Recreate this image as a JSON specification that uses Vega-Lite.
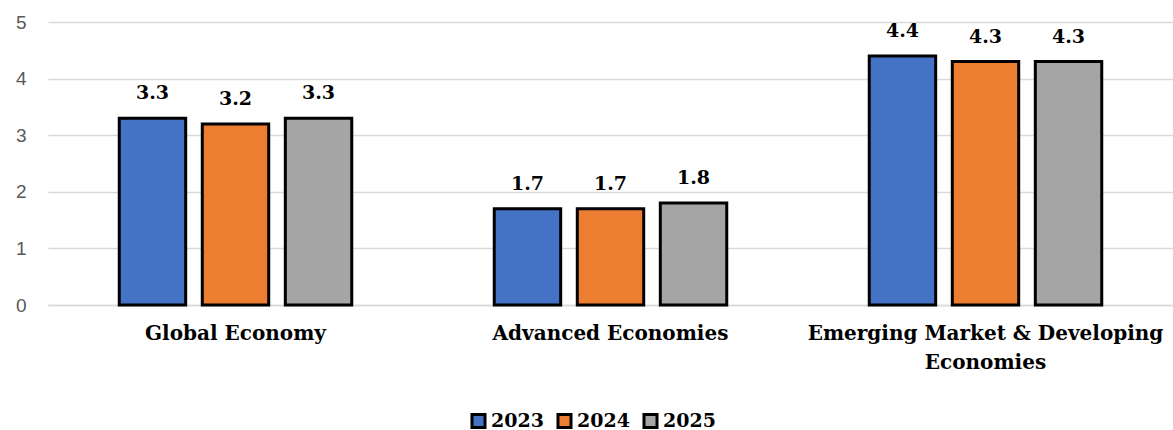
{
  "$schema": "https://vega.github.io/schema/vega-lite/v6.json",
  "width": 1125,
  "height": 283,
  "autosize": {"type": "none"},
  "padding": {"left": 48, "top": 22, "right": 0, "bottom": 125},
  "background": "white",
  "data": {
    "values": [
      {"region": "Global Economy", "year": "2023", "growth": 3.3},
      {"region": "Global Economy", "year": "2024", "growth": 3.2},
      {"region": "Global Economy", "year": "2025", "growth": 3.3},
      {"region": "Advanced Economies", "year": "2023", "growth": 1.7},
      {"region": "Advanced Economies", "year": "2024", "growth": 1.7},
      {"region": "Advanced Economies", "year": "2025", "growth": 1.8},
      {"region": "Emerging Market & Developing Economies", "year": "2023", "growth": 4.4},
      {"region": "Emerging Market & Developing Economies", "year": "2024", "growth": 4.3},
      {"region": "Emerging Market & Developing Economies", "year": "2025", "growth": 4.3}
    ]
  },
  "encoding": {
    "x": {
      "field": "region",
      "type": "nominal",
      "sort": null,
      "title": null,
      "scale": {"paddingInner": 0.38, "paddingOuter": 0.19},
      "axis": {
        "labelAngle": 0,
        "labelFont": "DejaVu Serif",
        "labelFontWeight": "bold",
        "labelFontSize": 20,
        "labelColor": "#000000",
        "labelLimit": 0,
        "labelPadding": 18,
        "labelLineHeight": 29,
        "labelBaseline": "top",
        "labelExpr": "datum.label == 'Emerging Market & Developing Economies' ? ['Emerging Market & Developing', 'Economies'] : datum.label",
        "ticks": false,
        "domain": true,
        "domainColor": "#d9d9d9",
        "domainWidth": 1.5,
        "grid": false
      }
    },
    "xOffset": {
      "field": "year",
      "type": "nominal",
      "scale": {"paddingInner": 0.2, "paddingOuter": 0}
    },
    "y": {
      "field": "growth",
      "type": "quantitative",
      "title": null,
      "scale": {"domain": [0, 5], "nice": false},
      "axis": {
        "values": [0, 1, 2, 3, 4, 5],
        "labelFont": "Liberation Sans",
        "labelFontSize": 19,
        "labelColor": "#595959",
        "labelPadding": 22,
        "ticks": false,
        "domain": false,
        "grid": true,
        "gridColor": "#d9d9d9",
        "gridWidth": 1.5
      }
    }
  },
  "layer": [
    {
      "mark": {"type": "bar", "stroke": "#000000", "strokeWidth": 3},
      "encoding": {
        "color": {
          "field": "year",
          "type": "nominal",
          "title": null,
          "scale": {"domain": ["2023", "2024", "2025"], "range": ["#4472C4", "#ED7D31", "#A5A5A5"]},
          "legend": {
            "orient": "none",
            "direction": "horizontal",
            "legendX": 421,
            "legendY": 389,
            "symbolType": "square",
            "symbolSize": 170,
            "symbolStrokeColor": "#000000",
            "symbolStrokeWidth": 3,
            "labelFont": "DejaVu Serif",
            "labelFontWeight": "bold",
            "labelFontSize": 19,
            "labelColor": "#000000",
            "labelOffset": 3,
            "columnPadding": 7
          }
        }
      }
    },
    {
      "mark": {
        "type": "text",
        "font": "DejaVu Serif",
        "fontWeight": "bold",
        "fontSize": 19,
        "color": "#000000",
        "baseline": "bottom",
        "dy": -15
      },
      "encoding": {
        "text": {"field": "growth", "type": "quantitative", "format": ".1f"}
      }
    }
  ],
  "config": {"view": {"stroke": null}}
}
